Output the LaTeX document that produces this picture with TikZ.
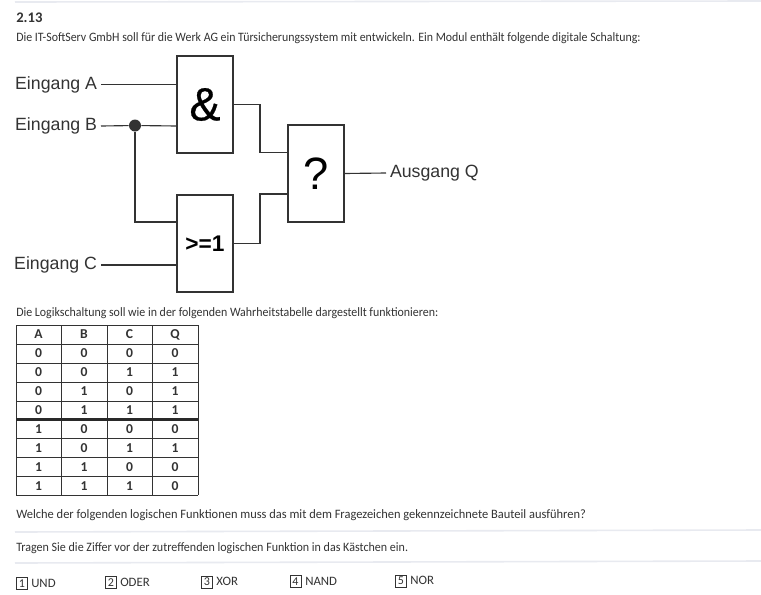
\documentclass[tikz,border=0pt]{standalone}
\usepackage{graphicx}
\usepackage{fontspec}
\setmainfont{Carlito}
\newfontfamily\arialf{Liberation Sans}
\newfontfamily\arialheavy[FakeBold=0.6]{Liberation Sans}
\definecolor{ink}{gray}{0.2}
\definecolor{faint}{RGB}{232,234,240}
\newcommand{\squeeze}[2]{\scalebox{#1}[1]{#2}}
\tikzset{
  x=0.75pt,y=-0.75pt,
  gate/.style={draw=ink,line width=0.85pt,minimum width=42pt,minimum height=72.75pt,inner sep=0pt,outer sep=0pt,fill=white},
  wire/.style={draw=ink,line width=0.85pt},
  lab/.style={font=\arialf\fontsize{13.3}{16}\selectfont,text=ink,inner sep=0pt,outer sep=3pt},
  body/.style={anchor=base west,inner sep=0pt,text=ink,font=\fontsize{9.6}{11}\selectfont},
  head/.style={anchor=base west,inner sep=0pt,text=ink,font=\bfseries\fontsize{11}{12}\selectfont},
  cell/.style={inner sep=0pt,text=ink,font=\bfseries\fontsize{10.2}{11}\selectfont},
  grid/.style={draw=ink,line width=0.7pt},
  numbox/.style={draw=ink,line width=0.45pt,minimum width=8.5pt,minimum height=9pt,inner sep=0pt,text=ink,font=\fontsize{9}{10}\selectfont,anchor=west},
  optlab/.style={anchor=west,inner sep=0pt,text=ink,font=\fontsize{9.6}{11}\selectfont},
  sepline/.style={draw=faint,line width=1.2pt},
}
\begin{document}
\begin{tikzpicture}
\useasboundingbox (0,0) rectangle (761,594);
\fill[white] (0,0) rectangle (761,594);
\draw[sepline] (15,2) -- (761,1);
\draw[sepline] (15,532) -- (761,530);
\draw[sepline] (15,563) -- (761,561);

\node[head] (nr) at (16,22) {2.13};
\node[body] (t1) at (16,41) {\squeeze{0.927}{Die IT-SoftServ GmbH soll für die Werk AG ein Türsicherungssystem mit entwickeln. Ein Modul enthält folgende digitale Schaltung:}};

\node[gate] (and) at (205,104.5) {\arialheavy\fontsize{35}{37}\selectfont \&};
\node[gate] (or) at (205,243.5) {\arialf\bfseries\fontsize{17}{18}\selectfont >=1};
\node[gate] (q) at (316,173.5) {\arialf\fontsize{34}{36}\selectfont ?};

\node[lab,anchor=east] (a) at (101,84.5) {Eingang A};
\node[lab,anchor=east] (b) at (101,126) {Eingang B};
\node[lab,anchor=east] (c) at (101,265) {Eingang C};
\node[lab,anchor=west] (o) at (386,173) {Ausgang Q};
\node[circle,fill=ink,minimum size=9pt,inner sep=0pt] (j) at (135,125.5) {};

\draw[wire] (a.east) -- (a.east -| and.west);
\draw[wire] (b.east) -- (j) -- (b.east -| and.west);
\draw[wire] (j) |- (or.west |- 0,222) ;
\draw[wire] (c.east) -- (c.east -| or.west);
\draw[wire] (and.east) -- (260,104.5) |- (q.west |- 0,152.5);
\draw[wire] (or.east) -- (260,243.5) |- (q.west |- 0,194);
\draw[wire] (q.east) -- (o.west);

\node[body] (t2) at (16,316) {\squeeze{0.931}{Die Logikschaltung soll wie in der folgenden Wahrheitstabelle dargestellt funktionieren:}};

% truth table
\foreach \xx in {16,61.5,107,152.5,198} \draw[grid] (\xx,325) -- (\xx,495);
\foreach \yy in {325,344,363,382,401,438,457,476,495} \draw[grid] (16,\yy) -- (198,\yy);
\draw[draw=ink!80!black,line width=1.6pt] (16,419.5) -- (198,419.5);
\foreach \A/\B/\C/\Q [count=\i from 0] in {
  A/B/C/Q, 0/0/0/0, 0/0/1/1, 0/1/0/1, 0/1/1/1, 1/0/0/0, 1/0/1/1, 1/1/0/0, 1/1/1/0}{
  \pgfmathsetmacro{\yc}{334.5+\i*18.9}
  \node[cell] (c\i a) at (38.5,\yc) {\A};
  \node[cell] (c\i b) at (84,\yc) {\B};
  \node[cell] (c\i c) at (129.5,\yc) {\C};
  \node[cell] (c\i q) at (175,\yc) {\Q};
}

\node[body] (t3) at (16,518) {\squeeze{0.972}{Welche der folgenden logischen Funktionen muss das mit dem Fragezeichen gekennzeichnete Bauteil ausführen?}};
\node[body] (t4) at (16,551) {\squeeze{0.94}{Tragen Sie die Ziffer vor der zutreffenden logischen Funktion in das Kästchen ein.}};

\node[numbox] (n1) at (16,583.5) {1};
\node[optlab] (l1) at (31,583) {UND};
\node[numbox] (n2) at (105,582.5) {2};
\node[optlab] (l2) at (120,582) {ODER};
\node[numbox] (n3) at (201,582) {3};
\node[optlab] (l3) at (216,581.5) {XOR};
\node[numbox] (n4) at (289.5,581.5) {4};
\node[optlab] (l4) at (305,581) {NAND};
\node[numbox] (n5) at (395,581) {5};
\node[optlab] (l5) at (410,580.5) {NOR};
\end{tikzpicture}
\end{document}
